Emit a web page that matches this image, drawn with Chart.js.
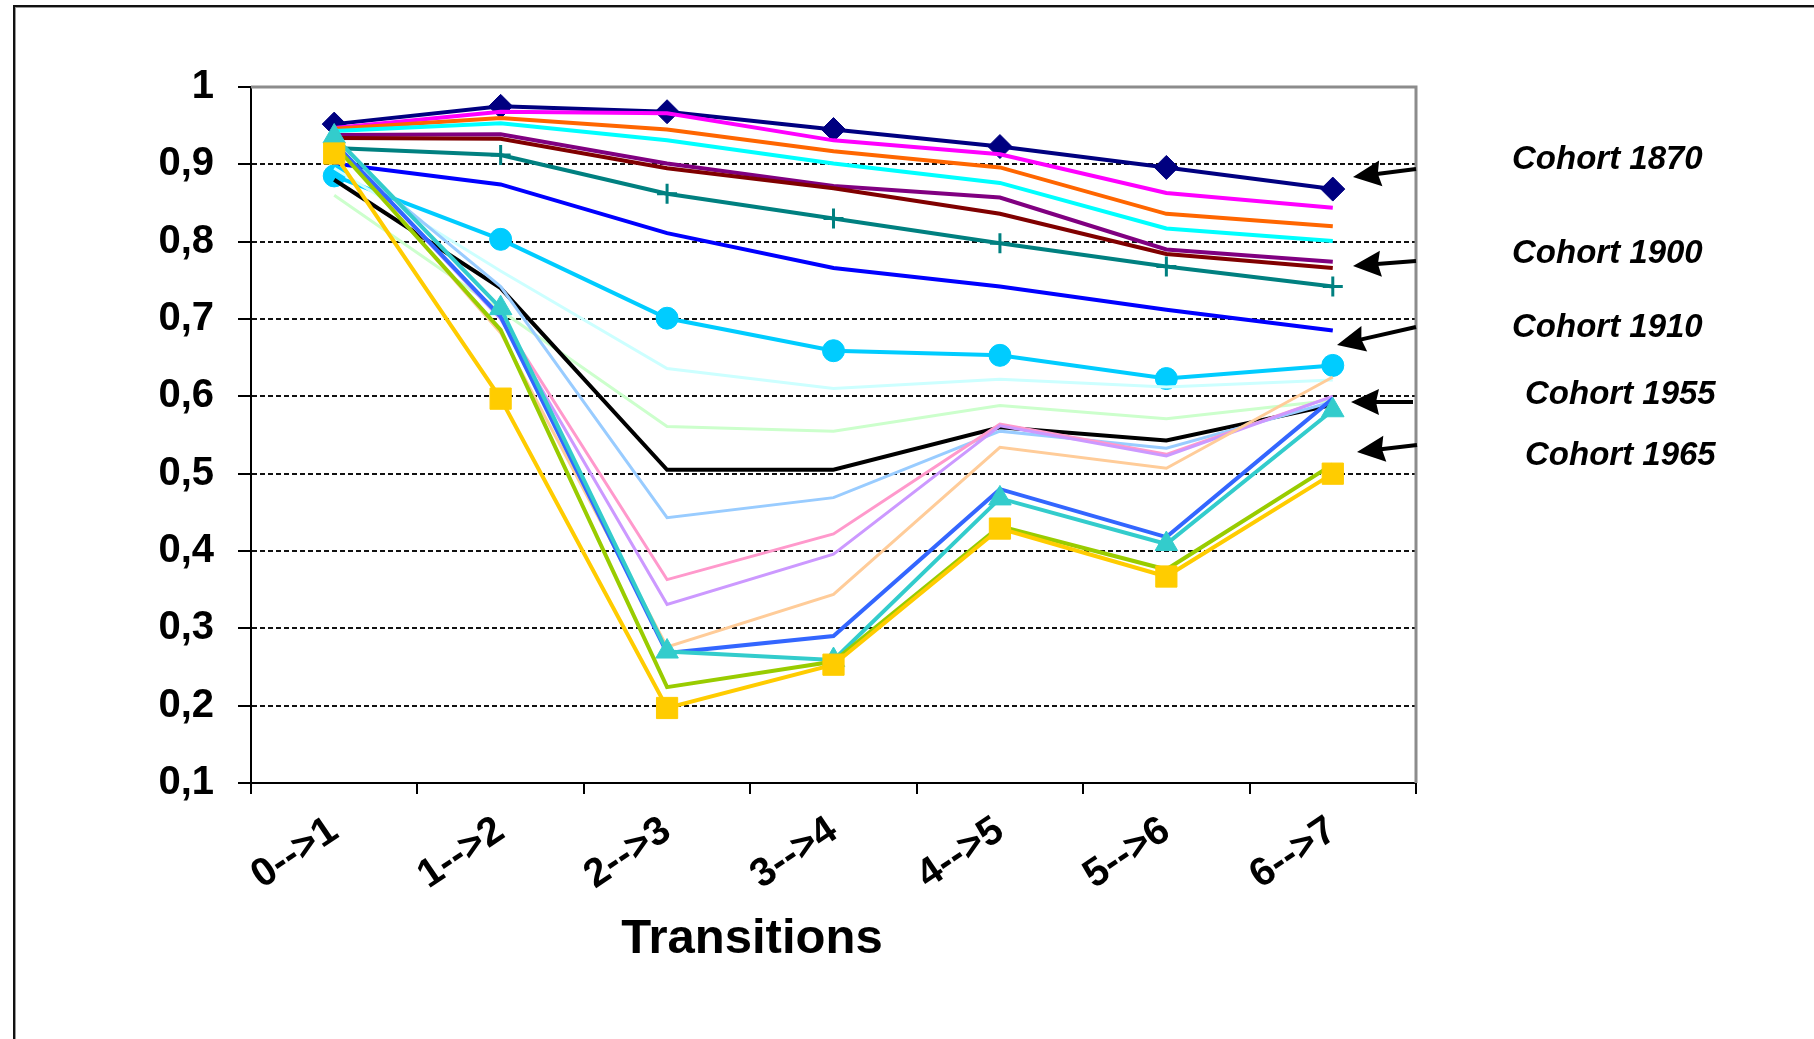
<!DOCTYPE html>
<html>
<head>
<meta charset="utf-8">
<script src="https://cdn.jsdelivr.net/npm/chart.js@4/dist/chart.umd.min.js"></script>
<style>
    html, body { margin: 0; padding: 0; background: #fff; }
    #wrap { position: relative; width: 1814px; height: 1039px; overflow: hidden; }
    #frame {
        position: absolute; left: 13px; top: 5px; right: -10px; bottom: -10px;
        border-top: 2px solid #111; border-left: 2px solid #111;
        box-shadow: inset 1px 1px 0 #999;
    }
    canvas { position: absolute; left: 0; top: 0; }
</style>
</head>
<body>
<div id="wrap">
    <div id="frame"></div>
    <canvas id="chart-cohorts"></canvas>
</div>
<script>
// categories and series
const transitions = ["0-->1", "1-->2", "2-->3", "3-->4", "4-->5", "5-->6", "6-->7"];
const cohortYears = [1870, 1875, 1880, 1885, 1890, 1895, 1900, 1905, 1910, 1915,
                     1920, 1925, 1930, 1935, 1940, 1945, 1950, 1955, 1960, 1965];
const yTicks = [0.1, 0.2, 0.3, 0.4, 0.5, 0.6, 0.7, 0.8, 0.9, 1];

const cohort1870 = [0.952, 0.975, 0.968, 0.945, 0.923, 0.896, 0.868];
const cohort1875 = [0.947, 0.968, 0.966, 0.931, 0.913, 0.863, 0.844];
const cohort1880 = [0.946, 0.960, 0.945, 0.917, 0.896, 0.836, 0.820];
const cohort1885 = [0.943, 0.953, 0.931, 0.901, 0.876, 0.817, 0.801];
const cohort1890 = [0.938, 0.939, 0.901, 0.872, 0.857, 0.790, 0.774];
const cohort1895 = [0.934, 0.933, 0.895, 0.869, 0.836, 0.784, 0.766];
const cohort1900 = [0.921, 0.912, 0.862, 0.830, 0.798, 0.768, 0.742];
const cohort1905 = [0.901, 0.874, 0.811, 0.766, 0.742, 0.712, 0.685];
const cohort1910 = [0.885, 0.803, 0.701, 0.659, 0.653, 0.623, 0.640];
const cohort1915 = [0.895, 0.762, 0.636, 0.610, 0.622, 0.612, 0.621];
const cohort1920 = [0.860, 0.711, 0.561, 0.555, 0.588, 0.571, 0.595];
const cohort1925 = [0.880, 0.740, 0.505, 0.505, 0.560, 0.543, 0.589];
const cohort1930 = [0.920, 0.742, 0.443, 0.469, 0.555, 0.533, 0.593];
const cohort1935 = [0.928, 0.702, 0.363, 0.422, 0.564, 0.525, 0.600];
const cohort1940 = [0.928, 0.700, 0.331, 0.396, 0.562, 0.523, 0.600];
const cohort1945 = [0.928, 0.682, 0.276, 0.344, 0.534, 0.507, 0.625];
const cohort1950 = [0.928, 0.703, 0.268, 0.290, 0.480, 0.418, 0.597];
const cohort1955 = [0.936, 0.714, 0.270, 0.259, 0.468, 0.409, 0.582];
const cohort1960 = [0.925, 0.686, 0.224, 0.257, 0.432, 0.376, 0.512];
const cohort1965 = [0.914, 0.597, 0.197, 0.253, 0.429, 0.367, 0.500];

const cohortValues = [cohort1870, cohort1875, cohort1880, cohort1885, cohort1890,
                      cohort1895, cohort1900, cohort1905, cohort1910, cohort1915,
                      cohort1920, cohort1925, cohort1930, cohort1935, cohort1940,
                      cohort1945, cohort1950, cohort1955, cohort1960, cohort1965];

const lineColors = ["#000080", "#FF00FF", "#FF6600", "#00FFFF", "#800080",
                    "#800000", "#008080", "#0000FF", "#00CCFF", "#CCFFFF",
                    "#CCFFCC", "#000000", "#99CCFF", "#FF99CC", "#CC99FF",
                    "#FFCC99", "#3366FF", "#33CCCC", "#99CC00", "#FFCC00"];

// marker per series index (others have none)
const markers = {
    0: { style: "rectRot", radius: 12 },
    6: { style: "cross", radius: 10 },
    8: { style: "circle", radius: 11 },
    17: { style: "triangle", radius: 13 },
    19: { style: "rect", radius: 15 },
};
const pastel = [9, 10, 12, 13, 14, 15];

const FONT = "'Liberation Sans', Arial, Helvetica, sans-serif";

const datasets = cohortValues.map((vals, i) => {
    const m = markers[i];
    return {
        label: "Cohort " + cohortYears[i],
        data: vals,
        borderColor: lineColors[i],
        backgroundColor: lineColors[i],
        borderWidth: pastel.includes(i) ? 3 : 4,
        tension: 0,
        pointStyle: m ? m.style : "circle",
        pointRadius: m ? m.radius : 0,
        pointBackgroundColor: lineColors[i],
        pointBorderColor: lineColors[i],
        pointBorderWidth: m && m.style === "cross" ? 3 : 1,
        order: -i,
    };
});

const notesPlugin = {
    id: "notes",
    beforeDatasetsDraw(chart) {
        const { ctx, chartArea } = chart;
        ctx.save();
        ctx.strokeStyle = "#8c8c8c";
        ctx.lineWidth = 3;
        ctx.beginPath();
        ctx.moveTo(chartArea.left, chartArea.top);
        ctx.lineTo(chartArea.right, chartArea.top);
        ctx.lineTo(chartArea.right, chartArea.bottom);
        ctx.stroke();
        ctx.restore();
    },
    afterDraw(chart) {
        const { ctx, chartArea } = chart;
        ctx.save();

        // axis title, sits left of the plot centre in the original
        ctx.fillStyle = "#000";
        ctx.font = "bold 49px " + FONT;
        ctx.textAlign = "center";
        ctx.textBaseline = "middle";
        const w = chartArea.right - chartArea.left;
        ctx.fillText("Transitions", chartArea.left + w * 0.43, chartArea.bottom + 156);

        // cohort notes on the right
        ctx.font = "italic bold 33px " + FONT;
        ctx.textAlign = "left";
        const notes = [
            ["Cohort 1870", 1512, 160, [1416, 169], [1353, 177]],
            ["Cohort 1900", 1512, 254, [1416, 261], [1353, 266]],
            ["Cohort 1910", 1512, 328, [1416, 327], [1337, 345]],
            ["Cohort 1955", 1525, 395, [1413, 402], [1351, 402]],
            ["Cohort 1965", 1525, 456, [1417, 445], [1357, 452]],
        ];
        notes.forEach(([txt, tx, ty, tail, tip]) => {
            ctx.fillText(txt, tx, ty);
            const ang = Math.atan2(tip[1] - tail[1], tip[0] - tail[0]);
            const headLen = 28, headHalf = 13;
            const bx = tip[0] - Math.cos(ang) * headLen;
            const by = tip[1] - Math.sin(ang) * headLen;
            ctx.strokeStyle = "#000";
            ctx.lineWidth = 4;
            ctx.beginPath();
            ctx.moveTo(tail[0], tail[1]);
            ctx.lineTo(bx + Math.cos(ang) * 4, by + Math.sin(ang) * 4);
            ctx.stroke();
            ctx.beginPath();
            ctx.moveTo(tip[0], tip[1]);
            ctx.lineTo(bx + Math.sin(ang) * headHalf, by - Math.cos(ang) * headHalf);
            ctx.lineTo(bx + Math.cos(ang) * 3, by + Math.sin(ang) * 3);
            ctx.lineTo(bx - Math.sin(ang) * headHalf, by + Math.cos(ang) * headHalf);
            ctx.closePath();
            ctx.fillStyle = "#000";
            ctx.fill();
        });
        ctx.restore();
    },
};

const initChart = () => {
    const chart = new Chart(document.getElementById("chart-cohorts"), {
        type: "line",
        data: { labels: transitions, datasets: datasets },
        options: {
            responsive: true,
            maintainAspectRatio: false,
            animation: false,
            layout: { padding: { left: 0, top: 87, right: 398, bottom: 0 } },
            plugins: {
                legend: { display: false },
                tooltip: { enabled: false },
            },
            scales: {
                x: {
                    offset: true,
                    grid: {
                        offset: true,
                        drawOnChartArea: false,
                        drawTicks: true,
                        tickLength: 11,
                        color: "#000",
                        lineWidth: 2,
                    },
                    border: { color: "#000", width: 2 },
                    ticks: {
                        color: "#000",
                        font: { family: FONT, size: 40, weight: "bold", lineHeight: 0.3 },
                        minRotation: 34,
                        maxRotation: 34,
                        padding: 28,
                        autoSkip: false,
                    },
                    afterFit: (scale) => { scale.height = 256; },
                },
                y: {
                    min: 0.1,
                    max: 1,
                    afterBuildTicks: (scale) => {
                        scale.ticks = yTicks.map((v) => ({ value: v }));
                    },
                    grid: {
                        color: (c) => (c.tick && (c.tick.value >= 0.99 || c.tick.value <= 0.11)
                            ? "rgba(0,0,0,0)" : "#111"),
                        lineWidth: 2,
                        tickColor: "#000",
                        tickLength: 13,
                        tickBorderDash: [],
                    },
                    border: { color: "#000", width: 2, dash: [5, 3] },
                    ticks: {
                        color: "#000",
                        font: { family: FONT, size: 40, weight: "bold" },
                        padding: 24,
                        callback: (v) => String(Number(v.toFixed(1))).replace(".", ","),
                    },
                    afterFit: (scale) => { scale.width = 251; },
                },
            },
        },
        plugins: [notesPlugin],
    });
    return chart;
};

window.chartCohorts = initChart();
</script>
</body>
</html>
